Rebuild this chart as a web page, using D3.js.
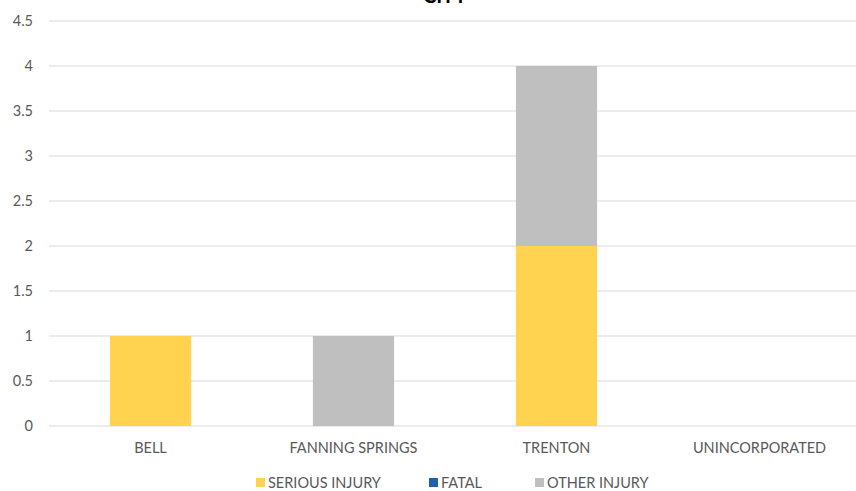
<!DOCTYPE html>
<html>
<head>
<meta charset="utf-8">
<script src="https://cdn.jsdelivr.net/npm/d3@7"></script>
<style>
  body { margin: 0; background: #fff; }
  text { font-family: Lato, "Open Sans", sans-serif; fill: #595959; }
</style>
</head>
<body>
<div id="chart"></div>
<script>
// Chart data
const cities = ["BELL", "FANNING SPRINGS", "TRENTON", "UNINCORPORATED"];
const seriesNames = ["SERIOUS INJURY", "FATAL", "OTHER INJURY"];
const seriousInjury = [1, 0, 2, 0];
const fatal = [0, 0, 0, 0];
const otherInjury = [0, 1, 2, 0];
const yTicks = [0, 0.5, 1, 1.5, 2, 2.5, 3, 3.5, 4, 4.5];
const colors = ["#FFD34F", "#1F5FAE", "#BFBFBF"];

const width = 856, height = 491;
const margin = { left: 49, right: -5, top: 21, bottom: 65 };
const fontSize = 14.5;

const svg = d3.select("#chart").append("svg")
    .attr("width", width)
    .attr("height", height);

const x = d3.scaleBand()
    .domain(cities)
    .range([margin.left, width - margin.right]);

const y = d3.scaleLinear()
    .domain([0, 4.5])
    .range([height - margin.bottom, margin.top]);

// Gridlines
svg.append("g")
    .selectAll("line")
    .data(yTicks)
    .enter().append("line")
    .attr("x1", margin.left)
    .attr("x2", width)
    .attr("y1", d => y(d))
    .attr("y2", d => y(d))
    .attr("stroke", "#D9D9D9")
    .attr("stroke-width", 1);

// Y tick labels
svg.append("g")
    .selectAll("text")
    .data(yTicks)
    .enter().append("text")
    .attr("x", 33)
    .attr("y", d => y(d))
    .attr("dy", "0.35em")
    .attr("text-anchor", "end")
    .attr("font-size", fontSize)
    .text(d => d);

// Stacked bars
const table = cities.map((c, i) => ({
    city: c,
    "SERIOUS INJURY": seriousInjury[i],
    "FATAL": fatal[i],
    "OTHER INJURY": otherInjury[i]
}));
const stack = d3.stack().keys(seriesNames)(table);
const barW = x.bandwidth() * 0.4;

svg.append("g")
    .selectAll("g")
    .data(stack)
    .enter().append("g")
    .attr("fill", (d, i) => colors[i])
    .selectAll("rect")
    .data(d => d)
    .enter().append("rect")
    .attr("x", d => x(d.data.city) + (x.bandwidth() - barW) / 2)
    .attr("y", d => y(d[1]))
    .attr("width", barW)
    .attr("height", d => y(d[0]) - y(d[1]));

// Category labels
svg.append("g")
    .selectAll("text")
    .data(cities)
    .enter().append("text")
    .attr("x", d => x(d) + x.bandwidth() / 2)
    .attr("y", 453)
    .attr("text-anchor", "middle")
    .attr("font-size", fontSize)
    .text(d => d);

// Title (clipped at top, as in the original)
svg.append("text")
    .attr("x", 445)
    .attr("y", 3)
    .attr("text-anchor", "middle")
    .attr("font-size", 20)
    .attr("font-weight", "bold")
    .style("fill", "#000")
    .text("CITY");

// Legend
const legendX = [256, 429, 535];
const legend = svg.append("g")
    .selectAll("g")
    .data(seriesNames)
    .enter().append("g")
    .attr("transform", (d, i) => `translate(${legendX[i]},478)`);

legend.append("rect")
    .attr("width", 9)
    .attr("height", 9)
    .attr("fill", (d, i) => colors[i]);

legend.append("text")
    .attr("x", 12)
    .attr("y", 4.5)
    .attr("dy", "0.35em")
    .attr("font-size", fontSize)
    .text(d => d);
</script>
</body>
</html>
